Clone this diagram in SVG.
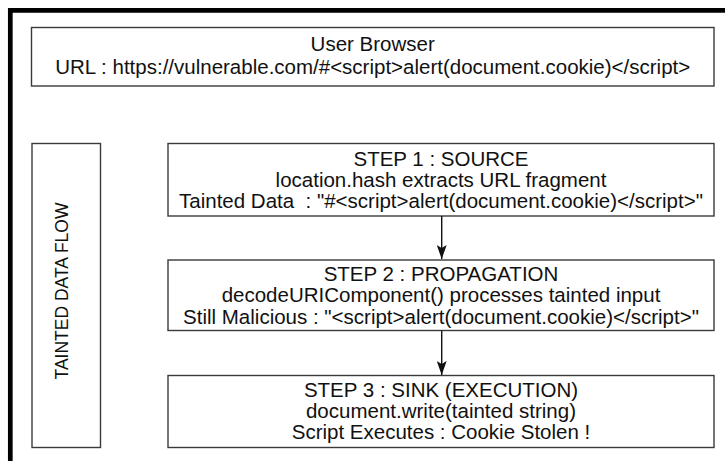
<svg xmlns="http://www.w3.org/2000/svg" width="725" height="461" viewBox="0 0 725 461">
<defs>
<style>
.box{fill:#fff;stroke:#3a3a3a;stroke-width:1.4}
.t{font-family:"Liberation Sans",Arial,sans-serif;font-size:20.5px;fill:#111;text-anchor:middle;white-space:pre}
.v{font-family:"Liberation Sans",Arial,sans-serif;font-size:17.5px;fill:#111;text-anchor:middle}
.c{stroke:#111;stroke-width:1.4;fill:none}
</style>
<marker id="ah" markerWidth="14" markerHeight="10" refX="14" refY="5" orient="auto" markerUnits="userSpaceOnUse">
<path d="M0,0 L14,5 L0,10 L3,5 Z" fill="#111"/>
</marker>
</defs>
<rect x="0" y="0" width="725" height="461" fill="#fff"/>
<path d="M10.3,461 V10.3 H725" fill="none" stroke="#000" stroke-width="4.7"/>
<g id="browser">
<rect class="box" x="31.5" y="27.5" width="682.5" height="58.5"/>
<text class="t" x="372.7" y="51">User Browser</text>
<text class="t" x="372.7" y="74">URL : https://vulnerable.com/#&lt;script&gt;alert(document.cookie)&lt;/script&gt;</text>
</g>
<g id="flow">
<rect class="box" x="32" y="143.5" width="68.5" height="304"/>
<text class="v" transform="translate(68,291) rotate(-90)">TAINTED DATA FLOW</text>
</g>
<g id="step1">
<rect class="box" x="168" y="143.5" width="546" height="72.5"/>
<text class="t" x="441" y="165.5">STEP 1 : SOURCE</text>
<text class="t" x="441" y="187">location.hash extracts URL fragment</text>
<text class="t" x="441" y="208" xml:space="preserve">Tainted Data  : "#&lt;script&gt;alert(document.cookie)&lt;/script&gt;"</text>
</g>
<g id="step2">
<rect class="box" x="168" y="260" width="546" height="70.5"/>
<text class="t" x="441" y="280.5">STEP 2 : PROPAGATION</text>
<text class="t" x="441" y="302">decodeURIComponent() processes tainted input</text>
<text class="t" x="441" y="323.5">Still Malicious : "&lt;script&gt;alert(document.cookie)&lt;/script&gt;"</text>
</g>
<g id="step3">
<rect class="box" x="168" y="375.5" width="546" height="72"/>
<text class="t" x="441" y="396.5">STEP 3 : SINK (EXECUTION)</text>
<text class="t" x="441" y="418">document.write(tainted string)</text>
<text class="t" x="441" y="439">Script Executes : Cookie Stolen !</text>
</g>
<g id="connectors">
<line class="c" x1="441.7" y1="216" x2="441.7" y2="259" marker-end="url(#ah)"/>
<line class="c" x1="441.7" y1="330.5" x2="441.7" y2="375" marker-end="url(#ah)"/>
</g>
</svg>
